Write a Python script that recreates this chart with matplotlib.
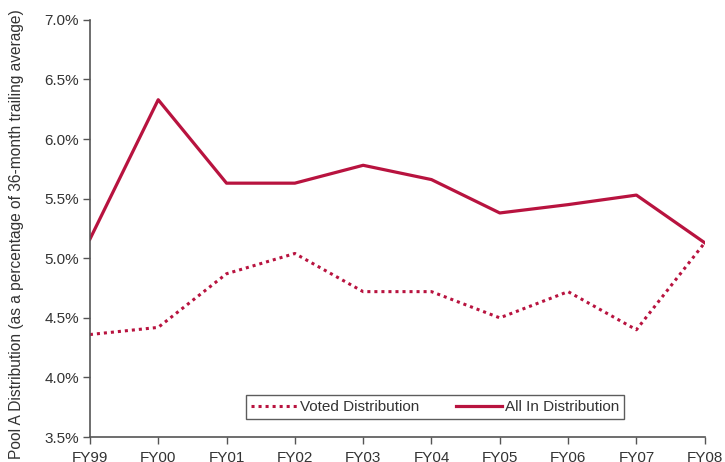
import matplotlib
matplotlib.use("Agg")
import matplotlib.pyplot as plt
from matplotlib.ticker import FuncFormatter

plt.rcParams["font.family"] = ["Liberation Sans", "DejaVu Sans"]

years = ["FY99", "FY00", "FY01", "FY02", "FY03", "FY04", "FY05", "FY06", "FY07", "FY08"]
voted = [4.36, 4.42, 4.87, 5.04, 4.72, 4.72, 4.50, 4.72, 4.40, 5.13]
all_in = [5.16, 6.33, 5.63, 5.63, 5.78, 5.66, 5.38, 5.45, 5.53, 5.13]

red = "#b8133f"
axis_col = "#555555"
text_col = "#333333"


def main():
    fig = plt.figure(figsize=(7.25, 4.62), dpi=100)
    ax = fig.add_axes([0.124, 0.054, 0.848, 0.903])

    x = list(range(len(years)))
    ax.plot(x, voted, color=red, linewidth=2.2, linestyle=(0, (1, 1.3)),
            label="Voted Distribution")
    ax.plot(x, all_in, color=red, linewidth=2.3, label="All In Distribution")

    ax.set_xlim(0, len(years) - 1)
    ax.set_ylim(3.5, 7.0)
    ax.set_xticks(x)
    ax.set_xticklabels(years)
    ax.set_yticks([3.5, 4.0, 4.5, 5.0, 5.5, 6.0, 6.5, 7.0])
    ax.yaxis.set_major_formatter(FuncFormatter(lambda v, p: f"{v:.1f}%"))

    for side in ("top", "right"):
        ax.spines[side].set_visible(False)
    for side in ("left", "bottom"):
        ax.spines[side].set_color(axis_col)
        ax.spines[side].set_linewidth(1.2)
    ax.tick_params(axis="both", colors=axis_col, labelcolor=text_col,
                   labelsize=11, length=5, width=1.0)
    ax.tick_params(axis="x", pad=5)
    ax.tick_params(axis="y", pad=3)

    ax.set_ylabel("Pool A Distribution (as a percentage of 36-month trailing average)",
                  fontsize=11.2, color=text_col)
    ax.yaxis.set_label_coords(-0.108, 0.487)

    leg = fig.legend(loc="center", bbox_to_anchor=(0.6, 0.119), ncol=2,
                     fontsize=11, frameon=True, fancybox=False,
                     handlelength=3.0, columnspacing=2.4, borderpad=0.3,
                     handletextpad=0.2)
    leg.get_frame().set_edgecolor("#333333")
    leg.get_frame().set_linewidth(1.0)
    for t in leg.get_texts():
        t.set_color(text_col)

    fig.savefig("out.png", dpi=100)


if __name__ == "__main__":
    main()
